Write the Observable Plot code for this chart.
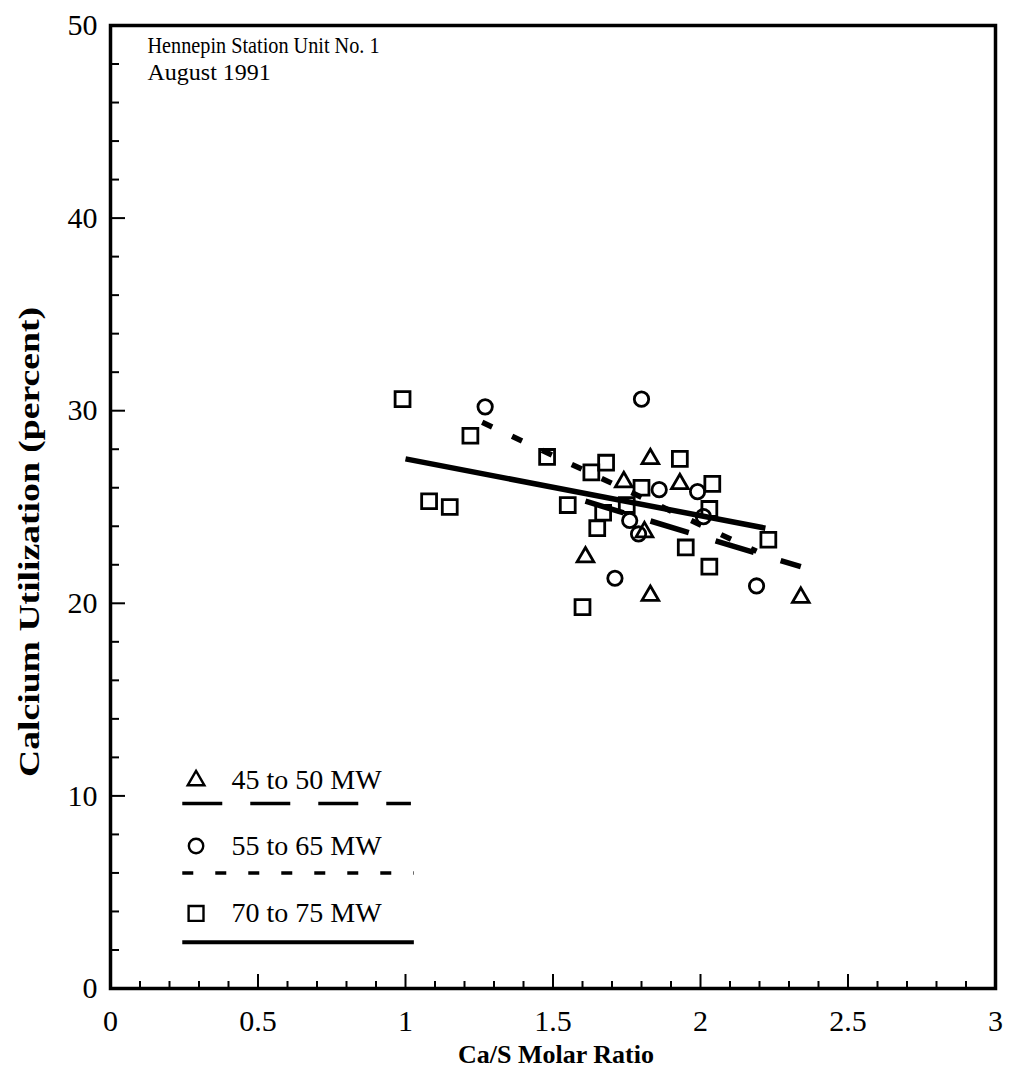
<!DOCTYPE html>
<html><head><meta charset="utf-8">
<script src="https://cdn.jsdelivr.net/npm/d3@7"></script>
<script src="https://cdn.jsdelivr.net/npm/@observablehq/plot@0.6"></script>
<style>body{margin:0;background:#fff}</style>
</head><body><div id="chart"></div>
<script>
// ---- data ----
const ratio45 = [1.83, 1.74, 1.93, 1.61, 1.83, 2.34, 1.81];
const util45  = [27.5, 26.3, 26.2, 22.4, 20.4, 20.3, 23.7];
const ratio55 = [1.27, 1.80, 1.86, 1.99, 2.01, 1.76, 1.79, 1.71, 2.19];
const util55  = [30.2, 30.6, 25.9, 25.8, 24.5, 24.3, 23.6, 21.3, 20.9];
const ratio70 = [0.99, 1.22, 1.48, 1.63, 1.68, 1.08, 1.15, 1.55, 1.67, 1.65, 1.60, 1.93, 1.80, 2.04, 1.75, 2.03, 1.95, 2.23, 2.03];
const util70  = [30.6, 28.7, 27.6, 26.8, 27.3, 25.3, 25.0, 25.1, 24.7, 23.9, 19.8, 27.5, 26.0, 26.2, 25.1, 24.9, 22.9, 23.3, 21.9];
const fitRatio45 = [1.61, 2.34], fitUtil45 = [25.3, 21.9];
const fitRatio55 = [1.26, 2.19], fitUtil55 = [29.4, 22.7];
const fitRatio70 = [1.00, 2.22], fitUtil70 = [27.5, 23.9];
const seriesLabels = ["45 to 50 MW", "55 to 65 MW", "70 to 75 MW"];
const xTickLabels = [0, 0.5, 1, 1.5, 2, 2.5, 3];
const yTickLabels = [0, 10, 20, 30, 40, 50];
const titleLines = ["Hennepin Station Unit No. 1", "August 1991"];
const xTitle = "Ca/S Molar Ratio";
const yTitle = "Calcium Utilization (percent)";

// ---- layout ----
const W = 1012, H = 1076;
const mL = 110, mR = 17, mT = 25, mB = 88;
const innerW = W - mL - mR, innerH = H - mT - mB;
const serif = "Liberation Serif, Times New Roman, serif";

const pts = (xs, ys) => xs.map((x, i) => ({x, y: ys[i]}));
const d45 = pts(ratio45, util45), d55 = pts(ratio55, util55), d70 = pts(ratio70, util70);
const f45 = pts(fitRatio45, fitUtil45), f55 = pts(fitRatio55, fitUtil55), f70 = pts(fitRatio70, fitUtil70);

const xMinor = d3.range(1, 30).map(i => i / 10).filter(v => Math.abs(v * 2 - Math.round(v * 2)) > 1e-6);
const xMajor = [0.5, 1, 1.5, 2, 2.5];
const yMinor = d3.range(2, 50, 2).filter(v => v % 10 !== 0);
const yMajor = [10, 20, 30, 40];

const dotStyle = {stroke: "black", fill: "none", strokeWidth: 2.8};
const lineStyle = {stroke: "black", strokeWidth: 5.5, strokeLinecap: "butt"};
const dash45 = "40,28", dash55 = "11,22";
const symR = {triangle: 6.2, circle: 7.2, square: 8.4};

// legend rows (placed in the chart frame's units)
const legRows = [
  {sym: "triangle", dash: dash45, ty: 10.8, ly: 9.6},
  {sym: "circle", dash: dash55, ty: 7.4, ly: 6.0},
  {sym: "square", dash: null, ty: 3.9, ly: 2.4}
].map((d, i) => ({...d, label: seriesLabels[i]}));

const legendMarks = legRows.flatMap(row => [
  Plot.dot([row], {x: 0.29, y: "ty", symbol: row.sym, r: symR[row.sym], ...dotStyle, strokeWidth: 2.4}),
  Plot.text([row], {x: 0.41, y: "ty", text: "label", textAnchor: "start", fontSize: 28}),
  Plot.ruleY([row], {y: "ly", x1: 0.245, x2: row.dash === dash45 ? 1.02 : 1.03, stroke: "black",
    strokeWidth: row.dash ? 3.5 : 4, strokeDasharray: row.dash ?? undefined})
]);

const chart = Plot.plot({
  width: W, height: H,
  marginLeft: mL, marginRight: mR, marginTop: mT, marginBottom: mB,
  style: {fontFamily: serif, color: "black", background: "white"},
  x: {domain: [0, 3], axis: null},
  y: {domain: [0, 50], axis: null},
  marks: [
    // inward ticks
    Plot.ruleY(yMinor, {y: d => d, insetRight: innerW - 9, strokeWidth: 2}),
    Plot.ruleY(yMajor, {y: d => d, insetRight: innerW - 15, strokeWidth: 2}),
    Plot.ruleX(xMinor, {x: d => d, insetTop: innerH - 7, strokeWidth: 2}),
    Plot.ruleX(xMajor, {x: d => d, insetTop: innerH - 14, strokeWidth: 2}),
    Plot.frame({stroke: "black", strokeWidth: 3.5}),
    // tick labels
    Plot.text(xTickLabels, {x: d => d, y: 0, dy: 33, text: d => String(d), fontSize: 30, lineAnchor: "middle"}),
    Plot.text(yTickLabels, {x: 0, y: d => d, dx: -13, text: d => String(d), fontSize: 30, textAnchor: "end", lineAnchor: "middle"}),
    // axis titles
    Plot.text([xTitle], {frameAnchor: "bottom", textAnchor: "middle", dx: 3, dy: 66, text: d => d, fontSize: 26, fontWeight: "bold", lineAnchor: "middle"}),
    Plot.text([yTitle], {frameAnchor: "left", textAnchor: "middle", dx: -81, dy: 35, rotate: -90, text: d => d, fontSize: 29, fontWeight: "bold", lineAnchor: "middle"}),
    // title
    Plot.text([titleLines[0]], {frameAnchor: "top-left", textAnchor: "start", lineAnchor: "middle", dx: 37, dy: 20, text: d => d, fontSize: 24}),
    Plot.text([titleLines[1]], {frameAnchor: "top-left", textAnchor: "start", lineAnchor: "middle", dx: 37, dy: 47, text: d => d, fontSize: 24}),
    // fit lines
    Plot.line(f70, {x: "x", y: "y", ...lineStyle}),
    Plot.line(f55, {x: "x", y: "y", ...lineStyle, strokeDasharray: dash55}),
    Plot.line(f45, {x: "x", y: "y", ...lineStyle, strokeDasharray: dash45}),
    // points
    Plot.dot(d70, {x: "x", y: "y", symbol: "square", r: symR.square, ...dotStyle}),
    Plot.dot(d55, {x: "x", y: "y", symbol: "circle", r: symR.circle, ...dotStyle}),
    Plot.dot(d45, {x: "x", y: "y", symbol: "triangle", r: symR.triangle, ...dotStyle}),
    ...legendMarks
  ]
});
document.getElementById("chart").appendChild(chart);
const svgText = d3.select(chart).selectAll("text");
svgText.filter(function() { return this.textContent === yTitle; })
  .attr("textLength", 470).attr("lengthAdjust", "spacingAndGlyphs");
svgText.filter(function() { return this.textContent === titleLines[0]; })
  .attr("textLength", 232).attr("lengthAdjust", "spacingAndGlyphs");
</script>
</body></html>
